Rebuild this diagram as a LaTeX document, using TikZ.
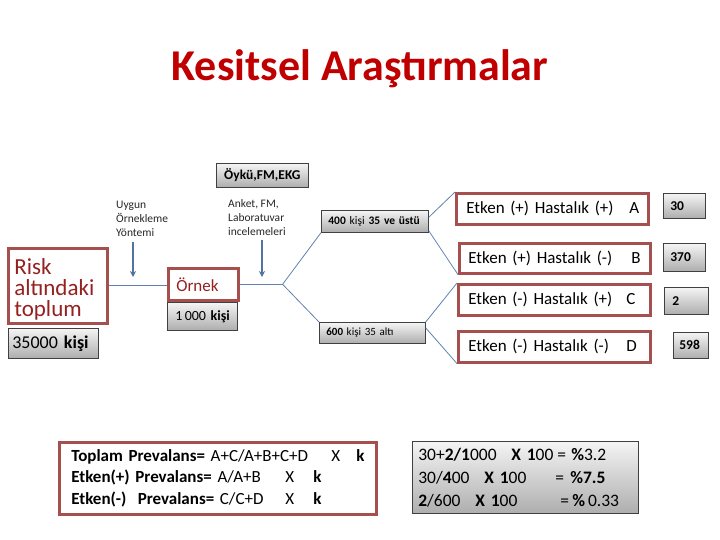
\documentclass[tikz,border=0pt]{standalone}
\usepackage{fontspec}
\setmainfont{Carlito}
\usetikzlibrary{calc,arrows.meta}
\definecolor{titlered}{RGB}{192,0,0}
\definecolor{bordred}{RGB}{165,80,78}
\definecolor{txtred}{RGB}{150,32,32}
\definecolor{linkblue}{RGB}{95,130,175}
\definecolor{arrblue}{RGB}{80,115,160}
\tikzset{
 redbox/.style={draw=bordred, line width=2.6pt, fill=white, inner ysep=0pt, anchor=north west, align=left},
 graybox/.style={draw=black!75, line width=0.7pt, top color=black!4, bottom color=black!32, inner ysep=0pt, anchor=north west, align=left},
 link/.style={draw=linkblue, line width=0.8pt},
 pointer/.style={draw=arrblue, line width=1.8pt, -{Stealth[length=6pt,width=6pt]}},
 note/.style={anchor=north west, align=left, inner sep=0pt, font=\fontsize{11.5}{14}\selectfont, text=black!85},
 etk/.style={redbox, minimum height=31pt, font=\fontsize{17}{18}\selectfont},
 val/.style={graybox, font=\fontsize{13.5}{14}\selectfont\bfseries},
}
\begin{document}
\begin{tikzpicture}[x=1pt,y=-1pt]
\useasboundingbox (0,0) rectangle (720,540);
\node[font=\fontsize{44}{44}\selectfont\bfseries, text=titlered, anchor=base] (title) at (360,81) {Kesitsel Araştırmalar};

% notes
\node[note] (n1) at (116,201) {Uygun\\Örnekleme\\Yöntemi};
\node[note] (n2) at (228,199) {Anket, FM,\\Laboratuvar\\incelemeleri};
\node[graybox, minimum width=92pt, minimum height=24pt, inner xsep=0pt, text width=92pt, align=center, font=\fontsize{13.5}{14}\selectfont\bfseries] (oyku) at (216,163) {Öykü,FM,EKG};

% left boxes
\node[redbox, minimum width=99pt, minimum height=75pt, inner xsep=6pt, text width=87pt, font=\fontsize{23}{21}\selectfont, text=txtred] (risk) at (7,247) {\rule{0pt}{23pt}Risk\\altındaki\\toplum};
\node[graybox, minimum height=30pt, inner xsep=4pt, text width=82pt, font=\fontsize{18}{19}\selectfont] (pop) at (8,328) {\mbox{35000 \textbf{kişi}}};
\node[redbox, minimum height=32pt, inner xsep=8pt, text width=54pt, font=\fontsize{17}{18}\selectfont, text=txtred] (ornek) at (167,267) {Örnek};
\node[graybox, minimum height=28pt, inner xsep=8pt, text width=54pt, font=\fontsize{14}{15}\selectfont] (samp) at (167,302) {\mbox{1\,000 \textbf{kişi}}};

% age groups
\node[graybox, minimum height=22pt, inner xsep=7pt, text width=93pt, font=\fontsize{11.5}{12}\selectfont] (b400) at (321,210) {\mbox{\textbf{400} kişi \textbf{35 ve üstü}}};
\node[graybox, minimum height=21pt, inner xsep=7pt, text width=92pt, font=\fontsize{11}{12}\selectfont] (b600) at (319,322) {\mbox{\textbf{600} kişi 35 altı}};

% outcome boxes
\node[etk, inner xsep=10pt, text width=172pt] (A) at (455,192) {\makebox[163pt][l]{Etken (+) Hastalık (+)}A};
\node[etk, minimum height=30pt, inner xsep=9pt, text width=173pt] (B) at (458,242) {\makebox[163pt][l]{Etken (+) Hastalık (-)}B};
\node[etk, inner xsep=10pt, text width=172pt] (C) at (457,283) {\makebox[158pt][l]{Etken (-) Hastalık (+)}C};
\node[etk, inner xsep=10pt, text width=172pt] (D) at (457,330) {\makebox[158pt][l]{Etken (-) Hastalık (-)}D};

% values
\node[val, minimum height=25pt, inner xsep=7pt, text width=28pt] (vA) at (663,193) {30};
\node[val, minimum height=28pt, inner xsep=7pt, text width=28pt] (vB) at (663,243) {370};
\node[val, minimum height=27pt, inner xsep=8pt, text width=28pt] (vC) at (664,287) {2};
\node[val, minimum height=26pt, inner xsep=6pt, text width=23pt] (vD) at (673,332) {598};

% formulas
\node[redbox, minimum height=72pt, inner xsep=12pt, text width=293pt, font=\fontsize{17}{21.5}\selectfont] (form) at (58,441) {%
\makebox[260pt][l]{\textbf{Toplam Prevalans=} A+C/A+B+C+D}\makebox[25pt][l]{X}\textbf{k}\\
\makebox[214pt][l]{\textbf{Etken(+) Prevalans=} A/A+B}\makebox[28pt][l]{X}\textbf{k}\\
\makebox[214pt][l]{\textbf{Etken(-)\ \ Prevalans=} C/C+D}\makebox[28pt][l]{X}\textbf{k}};
\node[graybox, minimum height=72pt, inner xsep=6pt, text width=214pt, font=\fontsize{17.5}{23}\selectfont] (calc) at (412,441) {%
\makebox[93pt][l]{30+\textbf{2/1}000}\makebox[46pt][l]{\textbf{X 1}00}\makebox[14pt][l]{=}\textbf{\%}3.2\\
\makebox[66pt][l]{30/\textbf{4}00}\makebox[71pt][l]{\textbf{X 1}00}\makebox[15pt][l]{=}\textbf{\%7.5}\\
\makebox[57pt][l]{\textbf{2}/600}\makebox[85pt][l]{\textbf{X 1}00}\makebox[12pt][l]{=}\textbf{\%}\,0.33};

% connectors
\draw[link] (risk.east) -- (risk.east -| ornek.west);
\draw[link] (ornek.east) -- ++(43,0) coordinate (fork);
\draw[link] (fork) -- (b400.south west);
\draw[link] (fork) -- (b600.north west);
\draw[link] ([yshift=4pt]b400.east) -- (A.north west);
\draw[link] ([yshift=2pt]b400.south east) -- (B.south west);
\draw[link] (b600.north east) -- (C.north west);
\draw[link] ([yshift=5pt]b600.east) -- (D.south west);

% pointers
\coordinate (p1s) at (133,242);
\coordinate (p1e) at (133,277);
\coordinate (p2s) at (262,240);
\coordinate (p2e) at (262,277);
\draw[pointer] (p1s) -- (p1e);
\draw[pointer] (p2s) -- (p2e);
\end{tikzpicture}
\end{document}
